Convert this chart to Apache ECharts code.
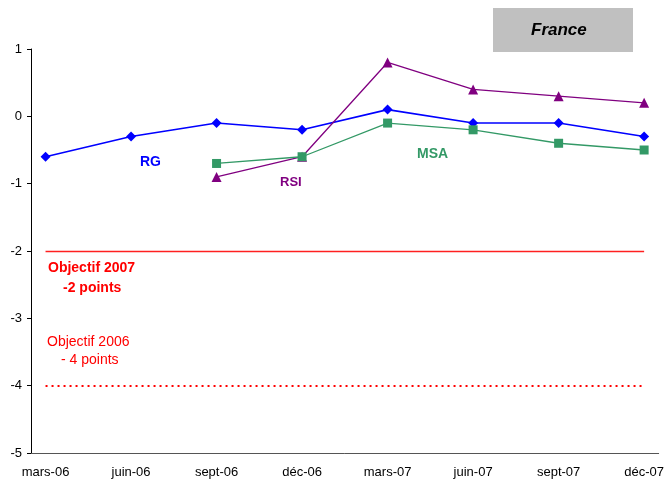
<!DOCTYPE html>
<html>
<head>
<meta charset="utf-8">
<script src="https://cdn.jsdelivr.net/npm/echarts@6/dist/echarts.min.js"></script>
<style>
html,body{margin:0;padding:0;background:#fff;}
#chart{width:667px;height:482px;}
</style>
</head>
<body>
<div id="chart"></div>
<script>
var categories = ['mars-06','juin-06','sept-06','déc-06','mars-07','juin-07','sept-07','déc-07'];
var rgValues  = [-0.6, -0.3, -0.1, -0.2, 0.1, -0.1, -0.1, -0.3];
var rsiValues = [null, null, -0.9, -0.6, 0.8, 0.4, 0.3, 0.2];
var msaValues = [null, null, -0.7, -0.6, -0.1, -0.2, -0.4, -0.5];
var objectif2007 = -2;
var objectif2006 = -4;
var yTicks = [-5, -4, -3, -2, -1, 0, 1];

function pairs(vals){
  var out = [];
  for (var i = 0; i < vals.length; i++) {
    if (vals[i] !== null) out.push([i, vals[i]]);
  }
  return out;
}
var idx = categories.map(function(c,i){return i;});
var FONT = 'Liberation Sans, Arial, sans-serif';

var chart = echarts.init(document.getElementById('chart'), null, {renderer:'canvas'});
chart.setOption({
  backgroundColor: '#fff',
  animation: false,
  grid: {left: 31, right: 7, top: 49, bottom: 29},
  xAxis: {
    type: 'value',
    min: -0.17, max: 7.17,
    splitLine: {show: false},
    axisLine: {show: true, onZero: false, lineStyle: {color: '#555', width: 1}},
    axisTick: {show: false},
    axisLabel: {
      customValues: idx,
      formatter: function(v){ return categories[Math.round(v)]; },
      color: '#000', fontFamily: FONT, fontSize: 13, margin: 13
    }
  },
  yAxis: {
    type: 'value',
    min: yTicks[0], max: yTicks[yTicks.length - 1], interval: 1,
    splitLine: {show: false},
    axisLine: {show: true, onZero: false, lineStyle: {color: '#000', width: 1}},
    axisTick: {show: true, length: 4, lineStyle: {color: '#000'}},
    axisLabel: {color: '#000', fontFamily: FONT, fontSize: 13, margin: 9}
  },
  series: [
    {
      name: 'RG', type: 'line', data: pairs(rgValues),
      symbol: 'diamond', symbolSize: 10,
      lineStyle: {color: '#0000FF', width: 1.6},
      itemStyle: {color: '#0000FF'},
      markLine: {
        silent: true, symbol: 'none', label: {show: false},
        data: [
          [{coord: [0, objectif2007]}, {coord: [7, objectif2007]}]
        ],
        lineStyle: {color: '#FF2020', width: 1.3, type: 'solid'}
      }
    },
    {
      name: 'RSI', type: 'line', data: pairs(rsiValues),
      symbol: 'triangle', symbolSize: 10,
      lineStyle: {color: '#800080', width: 1.3},
      itemStyle: {color: '#800080'},
      markLine: {
        silent: true, symbol: 'none', label: {show: false},
        data: [
          [{coord: [0, objectif2006]}, {coord: [7, objectif2006]}]
        ],
        lineStyle: {color: '#FF0000', width: 2, type: [2, 4]}
      }
    },
    {
      name: 'MSA', type: 'line', data: pairs(msaValues),
      symbol: 'rect', symbolSize: 9,
      lineStyle: {color: '#339966', width: 1.3},
      itemStyle: {color: '#339966'}
    }
  ],
  graphic: [
    {type: 'rect', left: 493, top: 8, shape: {width: 140, height: 44}, style: {fill: '#C0C0C0'}},
    {type: 'text', left: 531, top: 22, style: {text: 'France', font: 'italic bold 17px ' + FONT, fill: '#000'}},
    {type: 'text', left: 140, top: 155, style: {text: 'RG', font: 'bold 14px ' + FONT, fill: '#0000FF'}},
    {type: 'text', left: 280, top: 176, style: {text: 'RSI', font: 'bold 13px ' + FONT, fill: '#800080'}},
    {type: 'text', left: 417, top: 147, style: {text: 'MSA', font: 'bold 14px ' + FONT, fill: '#339966'}},
    {type: 'text', left: 48, top: 261, style: {text: 'Objectif 2007', font: 'bold 14px ' + FONT, fill: '#FF0000'}},
    {type: 'text', left: 63, top: 281, style: {text: '-2 points', font: 'bold 14px ' + FONT, fill: '#FF0000'}},
    {type: 'text', left: 47, top: 335, style: {text: 'Objectif 2006', font: '14px ' + FONT, fill: '#FF0000'}},
    {type: 'text', left: 61, top: 353, style: {text: '- 4 points', font: '14px ' + FONT, fill: '#FF0000'}}
  ]
});
</script>
</body>
</html>
